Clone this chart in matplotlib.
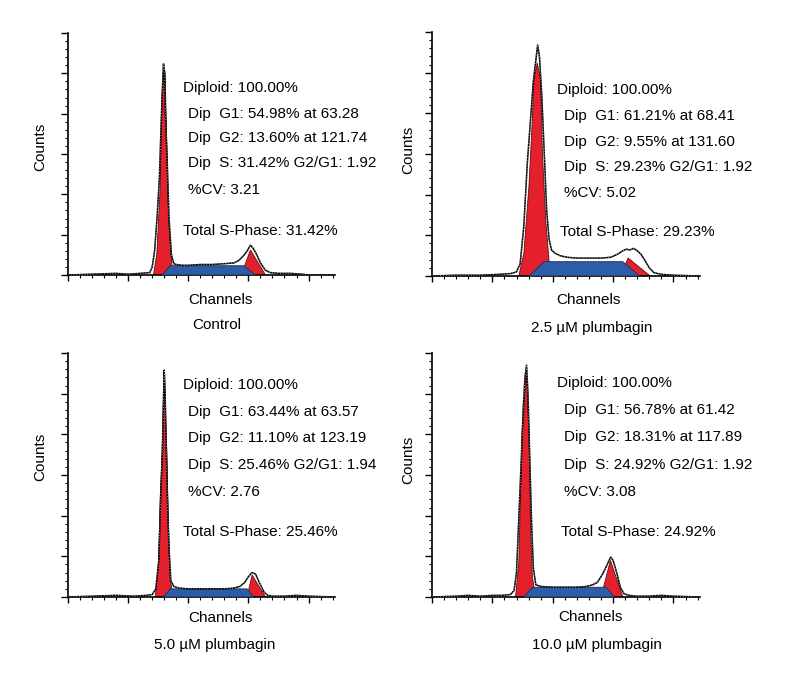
import matplotlib.pyplot as plt
from matplotlib.ticker import MultipleLocator

# ---- dati (canali 0-222, conteggi 0-300) ----
titoli = ['Control', '2.5 µM plumbagin', '5.0 µM plumbagin', '10.0 µM plumbagin']

# Control
c1_hist_x = [0, 20, 40, 50, 60, 68, 70, 72, 74, 76, 77.5, 78.5, 79.4, 80.2, 81, 82.5, 84, 86, 88, 90, 95, 100,
             110, 120, 130, 138, 142, 146, 149, 151.7, 154, 157, 160, 164, 168, 175, 185, 195, 200, 222]
c1_hist_y = [0, 1, 2, 1, 2, 3, 10, 30, 70, 120, 190, 230, 262, 250, 200, 140, 70, 25, 14, 13, 12, 12,
             13, 13, 14, 15, 18, 24, 30, 37, 33, 25, 15, 6, 3, 2, 2, 1, 0, 0]
c1_g1_x = [71.1, 73.9, 76.7, 78.1, 79.4, 80.8, 82.3, 83.6, 86.4, 87.8]
c1_g1_y = [0, 27, 109, 221, 256, 252, 151, 68, 12, 0]
c1_g2_x = [144.0, 151.7, 164.2]
c1_g2_y = [0, 31, 0]
c1_s_x = [78.1, 85.0, 146.1, 155.8]
c1_s_y = [0, 11.5, 11.5, 0]

# 2.5 uM
c2_hist_x = [0, 20, 40, 55, 65, 70, 73, 76, 79, 82, 84, 86, 87.5, 89, 91, 93, 95, 97, 99, 102, 106, 112,
             120, 130, 140, 148, 154, 158, 161, 164, 167, 170, 173, 176, 180, 184, 190, 200, 222]
c2_hist_y = [0, 1, 1, 2, 3, 5, 15, 60, 140, 200, 240, 265, 284, 270, 220, 150, 80, 45, 32, 28, 25, 23,
             22, 22, 22, 23, 27, 31, 33, 32, 34, 31, 27, 20, 10, 4, 2, 1, 0]
c2_g1_x = [71.9, 76.1, 80.3, 83.1, 84.4, 87.2, 90.0, 91.4, 94.2, 96.9, 98.3]
c2_g1_y = [0, 28, 110, 192, 241, 262, 241, 153, 69, 20, 0]
c2_g2_x = [155.8, 162.5, 180.8]
c2_g2_y = [0, 22, 0]
c2_s_x = [80.3, 92.8, 158.1, 171.9]
c2_s_y = [0, 17.6, 17.6, 0]

# 5.0 uM
c3_hist_x = [0, 20, 40, 55, 65, 70, 73, 75.5, 77, 78.5, 79.5, 80, 80.6, 81.5, 82.5, 84, 85.5, 88, 92, 100,
             110, 120, 130, 138, 143, 147, 150, 153, 156, 159, 163, 166, 170, 180, 190, 200, 222]
c3_hist_y = [0, 1, 2, 1, 2, 3, 10, 45, 120, 180, 250, 279, 260, 200, 130, 60, 20, 13, 11, 10,
             10, 10, 10, 11, 13, 18, 25, 30, 28, 18, 6, 2, 1, 1, 2, 1, 0]
c3_g1_x = [72.5, 75.3, 76.7, 78.1, 79.4, 80.0, 80.6, 82.3, 83.6, 85.0, 87.8]
c3_g1_y = [0, 42, 123, 172, 246, 265, 250, 172, 82, 21, 0]
c3_g2_x = [148.9, 153.1, 164.2]
c3_g2_y = [0, 27, 0]
c3_s_x = [79.4, 85.0, 148.9, 154.4]
c3_s_y = [0, 10, 10, 0]

# 10.0 uM
c4_hist_x = [0, 20, 30, 40, 50, 58, 65, 68, 70, 72, 74, 75.5, 77, 78.3, 79.5, 81, 82.5, 84, 86, 90,
             100, 110, 120, 128, 133, 137, 140, 143, 146, 148, 150, 153, 156, 159, 163, 170, 180, 190, 200, 222]
c4_hist_y = [0, 1, 2, 1, 2, 2, 3, 8, 30, 100, 170, 230, 270, 285, 250, 170, 90, 35, 15, 13,
             12, 12, 12, 13, 15, 18, 25, 33, 43, 49, 45, 30, 12, 4, 2, 1, 1, 2, 1, 0]
c4_g1_x = [69.2, 71.9, 73.3, 74.7, 76.1, 77.5, 78.3, 80.3, 81.7, 83.1, 85.8]
c4_g1_y = [0, 42, 123, 205, 226, 270, 272, 205, 82, 25, 0]
c4_g2_x = [140.0, 147.8, 158.1]
c4_g2_y = [0, 45, 0]
c4_s_x = [76.1, 83.1, 144.2, 151.1]
c4_s_y = [0, 12, 12, 0]

# testi delle statistiche
stat_diploid = ['Diploid: 100.00%'] * 4
stat_g1 = ['Dip  G1: 54.98% at 63.28', 'Dip  G1: 61.21% at 68.41',
           'Dip  G1: 63.44% at 63.57', 'Dip  G1: 56.78% at 61.42']
stat_g2 = ['Dip  G2: 13.60% at 121.74', 'Dip  G2: 9.55% at 131.60',
           'Dip  G2: 11.10% at 123.19', 'Dip  G2: 18.31% at 117.89']
stat_s = ['Dip  S: 31.42% G2/G1: 1.92', 'Dip  S: 29.23% G2/G1: 1.92',
          'Dip  S: 25.46% G2/G1: 1.94', 'Dip  S: 24.92% G2/G1: 1.92']
stat_cv = ['%CV: 3.21', '%CV: 5.02', '%CV: 2.76', '%CV: 3.08']
stat_total = ['Total S-Phase: 31.42%', 'Total S-Phase: 29.23%',
              'Total S-Phase: 25.46%', 'Total S-Phase: 24.92%']

pannelli = [
    (c1_hist_x, c1_hist_y, c1_g1_x, c1_g1_y, c1_g2_x, c1_g2_y, c1_s_x, c1_s_y),
    (c2_hist_x, c2_hist_y, c2_g1_x, c2_g1_y, c2_g2_x, c2_g2_y, c2_s_x, c2_s_y),
    (c3_hist_x, c3_hist_y, c3_g1_x, c3_g1_y, c3_g2_x, c3_g2_y, c3_s_x, c3_s_y),
    (c4_hist_x, c4_hist_y, c4_g1_x, c4_g1_y, c4_g2_x, c4_g2_y, c4_s_x, c4_s_y),
]

plt.rcParams['font.family'] = ['Liberation Sans', 'DejaVu Sans']
FS = 11
W, H = 800, 700

# posizioni in pixel (x sinistra, y asse, y alto, x destra) per ogni pannello
origini = [(68, 275, 33, 335), (432, 276, 32, 700), (68, 597, 353, 335), (432, 597, 353, 700)]
# (x diploid, x righe, y diploid, y g1, y g2, y s, y cv, x total, y total)
pos_testi = [
    (183, 188, 88, 114, 138, 163, 190, 183, 231),
    (557, 564, 90, 116, 142, 167, 193, 560, 232),
    (183, 188, 385, 412, 438, 465, 492, 183, 532),
    (557, 564, 383, 410, 437, 465, 492, 561, 532),
]
pos_counts = [(40, 147), (408, 150), (40, 457), (408, 460)]
pos_channels = [(220, 300), (588, 300), (220, 618), (590, 617)]
pos_titoli = [(217, 325), (592, 328), (215, 645), (597, 645)]

RED = '#e3202b'
BLUE = '#2d5da8'

fig = plt.figure(figsize=(8, 7), dpi=100)


def px(x, y):
    return x / W, 1 - y / H


for i, (hx, hy, g1x, g1y, g2x, g2y, sx, sy) in enumerate(pannelli):
    x0, yb, yt, x1 = origini[i]
    ax = fig.add_axes([x0 / W, 1 - yb / H, (x1 - x0) / W, (yb - yt) / H])

    ax.fill(g1x, g1y, color=RED, ec='#5a1010', lw=0.6, zorder=2)
    ax.fill(g2x, g2y, color=RED, ec='#5a1010', lw=0.6, zorder=2)
    ax.fill(sx, sy, color=BLUE, ec='#1c2f55', lw=0.6, zorder=3)
    ax.plot(hx, hy, color='black', lw=1.1, zorder=4)
    ax.plot(hx, hy, color='white', lw=0.5, ls=(0, (1, 3)), zorder=5)

    ax.set_xlim(0, 222)
    ax.set_ylim(0, 300)
    ax.xaxis.set_major_locator(MultipleLocator(50))
    ax.xaxis.set_minor_locator(MultipleLocator(10))
    ax.yaxis.set_major_locator(MultipleLocator(50))
    ax.yaxis.set_minor_locator(MultipleLocator(10))
    ax.tick_params(axis='x', which='major', direction='out', length=4, width=1)
    ax.tick_params(axis='x', which='minor', direction='out', length=2, width=0.8)
    ax.tick_params(axis='y', which='major', direction='out', length=5, width=1)
    ax.tick_params(axis='y', which='minor', direction='out', length=2, width=0.8)
    ax.tick_params(which='both', labelbottom=False, labelleft=False)
    for lato in ['top', 'right']:
        ax.spines[lato].set_visible(False)
    for lato in ['left', 'bottom']:
        ax.spines[lato].set_linewidth(1.2)
    ax.patch.set_alpha(0)

    xd, xr, yd, yg1, yg2, ys, ycv, xtot, ytot = pos_testi[i]
    fig.text(*px(xd, yd), stat_diploid[i], fontsize=FS, va='center')
    fig.text(*px(xr, yg1), stat_g1[i], fontsize=FS, va='center')
    fig.text(*px(xr, yg2), stat_g2[i], fontsize=FS, va='center')
    fig.text(*px(xr, ys), stat_s[i], fontsize=FS, va='center')
    fig.text(*px(xr, ycv), stat_cv[i], fontsize=FS, va='center')
    fig.text(*px(xtot, ytot), stat_total[i], fontsize=FS, va='center')

    fig.text(*px(*pos_counts[i]), 'Counts', fontsize=FS, rotation=90, ha='center', va='center')
    fig.text(*px(*pos_channels[i]), 'Channels', fontsize=FS, ha='center', va='center')
    fig.text(*px(*pos_titoli[i]), titoli[i], fontsize=FS, ha='center', va='center')

plt.savefig('out.png', dpi=100)
